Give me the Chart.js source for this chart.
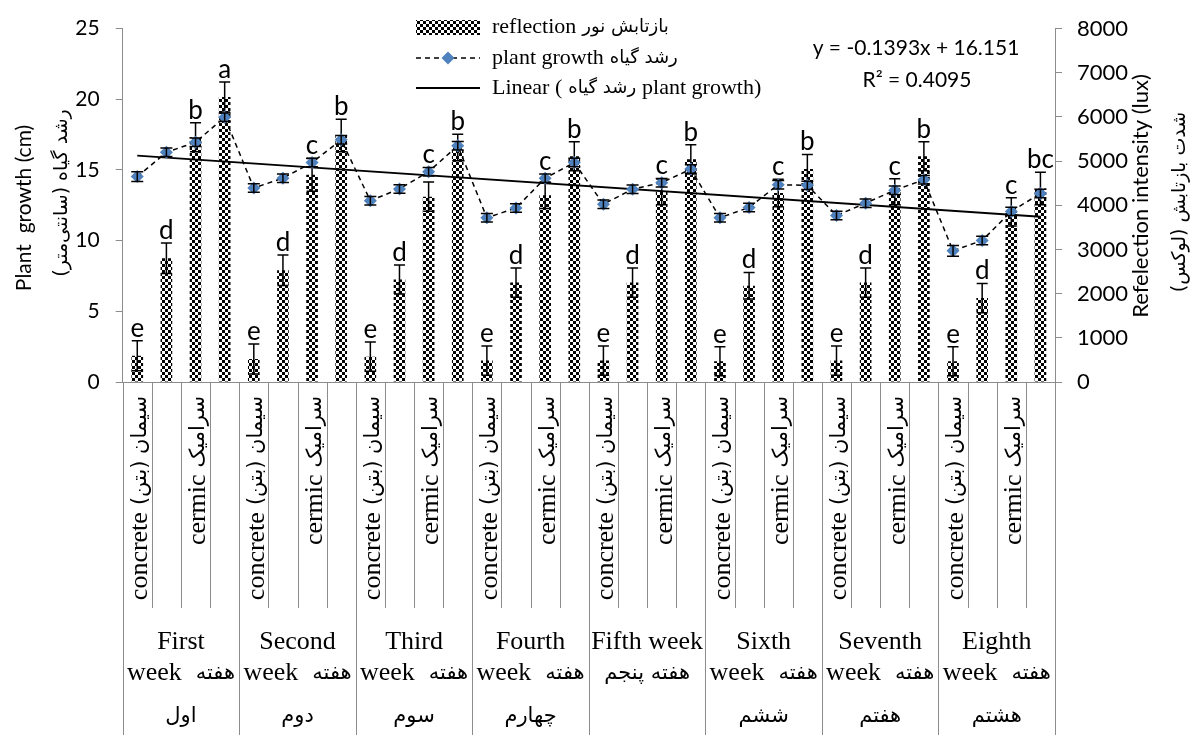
<!DOCTYPE html>
<html>
<head>
<meta charset="utf-8">
<script src="https://cdn.jsdelivr.net/npm/chart.js@4.4.1/dist/chart.umd.min.js"></script>
<style>
  html, body { margin: 0; padding: 0; background: #fff; }
  #wrap { width: 1192px; height: 735px; }
</style>
</head>
<body>
<div id="wrap"><canvas id="growthChart" width="1192" height="735"></canvas></div>
<script>
// Weeks (group labels, one line per row) and surfaces inside each week
const weekLabels = [
  ['First', 'week هفته', 'اول'],
  ['Second', 'week هفته', 'دوم'],
  ['Third', 'week هفته', 'سوم'],
  ['Fourth', 'week هفته', 'چهارم'],
  ['Fifth week', 'هفته پنجم'],
  ['Sixth', 'week هفته', 'ششم'],
  ['Seventh', 'week هفته', 'هفتم'],
  ['Eighth', 'week هفته', 'هشتم']
];
const surfaceLabels = ['concrete سیمان (بتن)', '', 'cermic سرامیک', ''];

// Light reflection (lux), right axis
const reflection = [595, 2800, 5540, 6450, 522, 2528, 4690, 5580,
                    573, 2320, 4195, 5310, 485, 2250, 4230, 5110,
                    485, 2250, 4305, 5040, 470, 2180, 4280, 4820,
                    485, 2250, 4305, 5110, 470, 1900, 3850, 4380];
const reflectionErr = [340, 345, 330, 340, 340, 345, 370, 370,
                       330, 330, 330, 300, 330, 330, 300, 330,
                       330, 330, 290, 330, 330, 300, 310, 330,
                       330, 330, 295, 330, 330, 330, 320, 370];
const letters = ['e', 'd', 'b', 'a', 'e', 'd', 'c', 'b',
                 'e', 'd', 'c', 'b', 'e', 'd', 'c', 'b',
                 'e', 'd', 'c', 'b', 'e', 'd', 'c', 'b',
                 'e', 'd', 'c', 'b', 'e', 'd', 'c', 'bc'];

// Plant growth (cm), left axis
const growth = [14.53, 16.25, 16.96, 18.73, 13.73, 14.42, 15.52, 17.13,
                12.83, 13.66, 14.88, 16.71, 11.62, 12.31, 14.42, 15.52,
                12.58, 13.64, 14.10, 15.06, 11.62, 12.35, 13.96, 13.91,
                11.78, 12.65, 13.57, 14.30, 9.28, 10.01, 12.07, 13.34];
const growthErr = [0.35, 0.3, 0.3, 0.3, 0.3, 0.3, 0.3, 0.3,
                   0.3, 0.3, 0.3, 0.3, 0.3, 0.3, 0.3, 0.3,
                   0.3, 0.3, 0.3, 0.3, 0.3, 0.3, 0.3, 0.3,
                   0.3, 0.3, 0.3, 0.3, 0.38, 0.3, 0.3, 0.3];

// linear trend line, first and last category
const trendEnds = [16.01, 11.69];
const equationLines = ['y = -0.1393x + 16.151', 'R² = 0.4095'];

const legendNames = ['reflection بازتابش نور', 'plant growth رشد گیاه', 'Linear (رشد گیاه plant growth)'];
const leftTitle = ['Plant  growth (cm)', 'رشد گیاه (سانتی‌متر)'];
const rightTitle = ['Refelection intensity (lux)', 'شدت بازتابش (لوکس)'];

const serif = '"Liberation Serif", "Times New Roman", serif';
const sans = 'Lato, "Open Sans", sans-serif';
const farsi = '"DejaVu Sans", sans-serif';
const axisGray = '#8c8c8c';
const markerBlue = '#4f81bd';

const categories = [];
weekLabels.forEach((w, wi) => surfaceLabels.forEach((s, si) => categories.push((wi + 1) + '-' + (si + 1))));

const canvas = document.getElementById('growthChart');
const mainCtx = canvas.getContext('2d');

// checkerboard fill like the Excel pattern
function checker() {
  const c = document.createElement('canvas');
  c.width = 6; c.height = 6;
  const g = c.getContext('2d');
  g.fillStyle = '#fff'; g.fillRect(0, 0, 6, 6);
  g.fillStyle = '#000'; g.fillRect(0, 0, 3, 3); g.fillRect(3, 3, 3, 3);
  return mainCtx.createPattern(c, 'repeat');
}
const pattern = checker();

// split into latin / persian runs, drawn left to right, persian runs right to left inside
function drawMixed(ctx, str, x, y, align, latinFont, farsiFont, gap) {
  const runs = str.match(/[\u0600-\u06FF][\u0600-\u06FF\u200c ()]*[\u0600-\u06FF)]|[\u0600-\u06FF]|[^\u0600-\u06FF]+/g) || [];
  const parts = runs.map(t => {
    const fa = /[\u0600-\u06FF]/.test(t);
    const txt = t.trim();
    ctx.font = fa ? farsiFont : latinFont;
    return { txt, fa, w: ctx.measureText(txt).width };
  }).filter(p => p.txt);
  let total = 0;
  parts.forEach((p, k) => { total += p.w + (k ? gap : 0); });
  let sx = align === 'center' ? x - total / 2 : (align === 'right' ? x - total : x);
  ctx.textAlign = 'left';
  parts.forEach((p, k) => {
    if (k) sx += gap;
    ctx.font = p.fa ? farsiFont : latinFont;
    ctx.direction = p.fa ? 'rtl' : 'ltr';
    ctx.fillText(p.txt, sx, y);
    sx += p.w;
  });
  ctx.direction = 'ltr';
}

function errLine(ctx, x, yTop, yBot, half) {
  ctx.beginPath();
  ctx.moveTo(x, yTop); ctx.lineTo(x, yBot);
  ctx.moveTo(x - half, yTop); ctx.lineTo(x + half, yTop);
  ctx.moveTo(x - half, yBot); ctx.lineTo(x + half, yBot);
  ctx.stroke();
}

const errorBars = {
  id: 'errorBars',
  afterDatasetDraw(chart, args) {
    const ctx = chart.ctx;
    ctx.save();
    ctx.strokeStyle = '#000';
    ctx.lineWidth = 1.5;
    if (args.index === 0) {
      const s = chart.scales.y1;
      args.meta.data.forEach((bar, i) => {
        errLine(ctx, bar.x, s.getPixelForValue(reflection[i] + reflectionErr[i]),
          s.getPixelForValue(reflection[i] - reflectionErr[i]), 5.5);
      });
    }
    if (args.index === 2) {
      const s = chart.scales.y;
      args.meta.data.forEach((pt, i) => {
        errLine(ctx, pt.x, s.getPixelForValue(growth[i] + growthErr[i]),
          s.getPixelForValue(growth[i] - growthErr[i]), 6);
      });
    }
    ctx.restore();
  }
};

// significance letters above bars
const letterLabels = {
  id: 'letterLabels',
  afterDatasetsDraw(chart) {
    const ctx = chart.ctx;
    const bars = chart.getDatasetMeta(0).data;
    const y1 = chart.scales.y1, y = chart.scales.y;
    ctx.save();
    ctx.fillStyle = '#000';
    ctx.font = '26px ' + sans;
    ctx.textAlign = 'center';
    ctx.textBaseline = 'alphabetic';
    bars.forEach((bar, i) => {
      let top = y1.getPixelForValue(reflection[i] + reflectionErr[i]);
      const pTop = y.getPixelForValue(growth[i] + growthErr[i]);
      if (pTop < top && top - pTop < 40) top = pTop;
      ctx.fillText(letters[i], bar.x, top - 4);
    });
    ctx.restore();
  }
};

// multi level category axis, titles, legend, equation
const decorations = {
  id: 'decorations',
  afterDraw(chart) {
    const ctx = chart.ctx;
    const xs = chart.scales.x;
    const area = chart.chartArea;
    const n = categories.length;
    const step = xs.getPixelForValue(1) - xs.getPixelForValue(0);
    const rowSplit = area.bottom + 226;
    const bottom = chart.height;

    ctx.save();
    ctx.strokeStyle = axisGray;
    ctx.lineWidth = 1;
    ctx.beginPath();
    for (let i = 0; i <= n; i++) {
      const bx = Math.round(xs.getPixelForValue(0) - step / 2 + i * step) + 0.5;
      ctx.moveTo(bx, area.bottom);
      ctx.lineTo(bx, i % 4 === 0 ? bottom : rowSplit);
    }
    ctx.stroke();

    ctx.fillStyle = '#000';
    ctx.textBaseline = 'middle';
    for (let i = 0; i < n; i++) {
      const txt = surfaceLabels[i % 4];
      if (!txt) continue;
      ctx.save();
      ctx.translate(xs.getPixelForValue(i) + 3, area.bottom + 14);
      ctx.rotate(-Math.PI / 2);
      drawMixed(ctx, txt, 0, 0, 'right', '26px ' + serif, '21px ' + farsi, 7);
      ctx.restore();
    }

    const rowY = [259.7, 291.3, 334.7];
    weekLabels.forEach((lines, w) => {
      const cx = (xs.getPixelForValue(w * 4) + xs.getPixelForValue(w * 4 + 3)) / 2;
      lines.forEach((t, k) => {
        drawMixed(ctx, t, cx, area.bottom + rowY[k], 'center', '26px ' + serif, '21px ' + farsi, 14);
      });
    });

    // axis titles
    ctx.textAlign = 'center';
    ctx.font = '21px ' + sans;
    ctx.save();
    ctx.translate(24, 208);
    ctx.rotate(-Math.PI / 2);
    ctx.fillText(leftTitle[0], 0, 0);
    ctx.restore();
    ctx.save();
    ctx.translate(62, 193);
    ctx.rotate(-Math.PI / 2);
    ctx.direction = 'rtl';
    ctx.font = '19px ' + farsi;
    ctx.fillText(leftTitle[1], 0, 0);
    ctx.restore();

    ctx.save();
    ctx.translate(1141, 196);
    ctx.rotate(-Math.PI / 2);
    ctx.font = '22px ' + sans;
    ctx.fillText(rightTitle[0], 0, 0);
    ctx.restore();
    ctx.save();
    ctx.translate(1180, 202);
    ctx.rotate(-Math.PI / 2);
    ctx.direction = 'rtl';
    ctx.font = '19px ' + farsi;
    ctx.fillText(rightTitle[1], 0, 0);
    ctx.restore();

    // trendline equation
    ctx.font = '21px ' + sans;
    ctx.fillText(equationLines[0], 916, 48);
    ctx.fillText(equationLines[1], 917, 80);

    // legend
    const lx = 416, lw = 64;
    const ly = [27, 58, 88];
    ctx.fillStyle = pattern;
    ctx.fillRect(lx, ly[0] - 7, lw, 15);
    ctx.strokeStyle = '#000';
    ctx.lineWidth = 1.5;
    ctx.setLineDash([5, 4]);
    ctx.beginPath(); ctx.moveTo(lx, ly[1]); ctx.lineTo(lx + lw, ly[1]); ctx.stroke();
    ctx.setLineDash([]);
    ctx.fillStyle = markerBlue;
    ctx.beginPath();
    ctx.moveTo(lx + lw / 2, ly[1] - 6.5); ctx.lineTo(lx + lw / 2 + 6.5, ly[1]);
    ctx.lineTo(lx + lw / 2, ly[1] + 6.5); ctx.lineTo(lx + lw / 2 - 6.5, ly[1]);
    ctx.closePath(); ctx.fill();
    ctx.lineWidth = 1.8;
    ctx.beginPath(); ctx.moveTo(lx, ly[2]); ctx.lineTo(lx + lw, ly[2]); ctx.stroke();
    ctx.fillStyle = '#000';
    legendNames.forEach((t, k) => drawMixed(ctx, t, 492, ly[k], 'left', '22px ' + serif, '18px ' + farsi, 6));
    ctx.restore();
  }
};

new Chart(canvas, {
  type: 'bar',
  data: {
    labels: categories,
    datasets: [{
      type: 'bar',
      label: legendNames[0],
      data: reflection,
      yAxisID: 'y1',
      backgroundColor: pattern,
      borderWidth: 0,
      barPercentage: 0.4,
      categoryPercentage: 1.0,
      order: 3
    }, {
      type: 'line',
      label: legendNames[2],
      data: growth.map((v, i) => i === 0 ? trendEnds[0] : (i === growth.length - 1 ? trendEnds[1] : null)),
      yAxisID: 'y',
      borderColor: '#000',
      borderWidth: 1.8,
      pointRadius: 0,
      spanGaps: true,
      fill: false,
      order: 2
    }, {
      type: 'line',
      label: legendNames[1],
      data: growth,
      yAxisID: 'y',
      borderColor: '#000',
      borderWidth: 1.5,
      borderDash: [5, 4],
      tension: 0,
      fill: false,
      pointStyle: 'rectRot',
      pointRadius: 6.5,
      pointBackgroundColor: markerBlue,
      pointBorderColor: markerBlue,
      pointBorderWidth: 0,
      order: 1
    }]
  },
  options: {
    responsive: false,
    animation: false,
    layout: { padding: { top: 19, left: 0, right: 0, bottom: 0 } },
    plugins: {
      legend: { display: false },
      tooltip: { enabled: false }
    },
    scales: {
      x: {
        offset: true,
        grid: { display: false },
        ticks: { display: false },
        border: { color: axisGray, width: 1 },
        afterFit: s => { s.height = 353; }
      },
      y: {
        position: 'left',
        min: 0, max: 25,
        ticks: { stepSize: 5, padding: 16, color: '#000', font: { family: sans, size: 21 } },
        grid: { drawOnChartArea: false, drawTicks: true, tickLength: 7, color: axisGray },
        border: { color: axisGray, width: 1 },
        afterFit: s => { s.width = 122.7; }
      },
      y1: {
        position: 'right',
        min: 0, max: 8000,
        ticks: { stepSize: 1000, padding: 15, color: '#000', font: { family: sans, size: 22 },
                 callback: v => String(v) },
        grid: { drawOnChartArea: false, drawTicks: true, tickLength: 7, color: axisGray },
        border: { color: axisGray, width: 1 },
        afterFit: s => { s.width = 137; }
      }
    }
  },
  plugins: [errorBars, letterLabels, decorations]
});
</script>
</body>
</html>
